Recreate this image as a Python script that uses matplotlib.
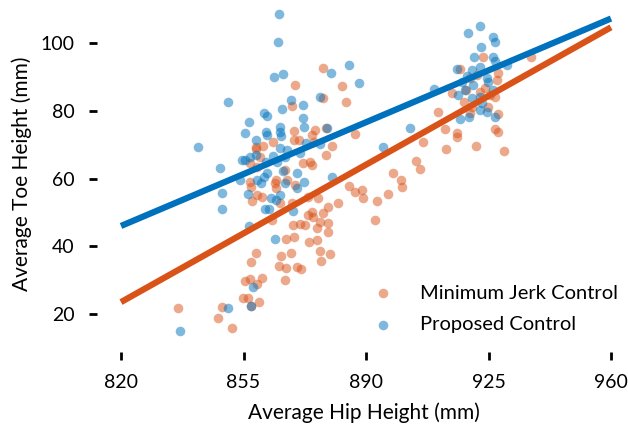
import matplotlib
matplotlib.use("Agg")
import matplotlib.pyplot as plt

## Colours (MATLAB-ish defaults)
orange = "#D95319"
blue = "#0072BD"

## Minimum jerk control: hip height vs toe height (mm)
mj_hip = [877.7, 869.7, 883.1, 884.3, 868.9, 877.7, 869.4, 878.6, 886.9, 875.4,
          863.4, 869.4, 870.9, 874.6, 875.1, 880.3, 858.6, 860.6, 858.6, 878.6,
          874.0, 872.0, 874.6, 856.9, 858.9, 859.7, 866.9, 867.4, 856.9, 864.3,
          864.0, 869.7, 885.1, 886.9, 888.9, 889.1, 857.1, 858.9, 860.3, 857.4,
          864.3, 865.4, 868.9, 873.4, 876.3, 879.1, 882.0, 874.6, 877.7, 873.4,
          874.9, 876.9, 879.1, 869.1, 871.1, 872.6, 876.0, 879.1, 893.1, 896.3,
          892.6, 863.1, 867.1, 869.4, 873.7, 876.0, 876.9, 879.7, 877.1, 858.6,
          857.1, 865.7, 868.6, 865.1, 867.1, 870.3, 871.4, 866.9, 855.4, 856.9,
          860.3, 858.9, 854.9, 856.3, 859.4, 857.1, 848.9, 847.7, 851.7, 836.3,
          937.1, 923.4, 916.9, 927.7, 921.7, 927.4, 924.0, 914.6, 922.6, 926.9,
          918.0, 924.9, 910.6, 919.7, 927.7, 912.6, 916.0, 916.0, 926.9, 927.7,
          906.3, 912.9, 921.4, 929.4, 904.3, 905.4, 897.7, 900.0, 900.3, 918.6,
          925.4, 920.3, 919.7]
mj_toe = [92.6, 87.6, 87.3, 82.6, 81.4, 83.8, 74.0, 74.9, 73.1, 74.3,
          70.8, 71.4, 71.4, 72.8, 70.8, 69.6, 69.3, 69.6, 68.7, 66.9,
          64.9, 64.6, 64.0, 64.6, 63.4, 66.3, 62.5, 59.6, 59.0, 59.6,
          58.7, 58.1, 57.8, 56.0, 56.6, 54.2, 57.5, 55.1, 54.5, 53.4,
          57.2, 52.8, 52.8, 54.5, 54.2, 51.6, 52.8, 50.1, 49.8, 49.2,
          48.6, 47.2, 46.9, 46.3, 46.6, 46.3, 45.4, 44.2, 53.4, 55.4,
          47.7, 47.7, 42.1, 42.7, 41.3, 41.8, 38.6, 37.7, 35.6, 38.0,
          35.4, 37.1, 38.0, 34.2, 33.6, 33.9, 33.3, 30.0, 29.7, 30.3,
          30.6, 28.9, 24.7, 24.7, 23.5, 22.4, 22.1, 18.8, 15.9, 21.8,
          95.9, 95.9, 92.3, 91.1, 90.6, 89.1, 86.7, 85.2, 85.5, 84.1,
          82.6, 81.1, 79.6, 79.3, 79.0, 74.6, 73.4, 72.3, 74.6, 73.7,
          70.8, 68.7, 69.6, 68.1, 65.2, 62.8, 61.6, 59.6, 57.5, 86.1,
          84.6, 81.1, 89.7]

## Proposed control
pc_hip = [865.1, 864.9, 863.7, 866.3, 880.0, 885.1, 888.0, 850.6, 868.6, 872.0,
          866.0, 876.9, 860.9, 861.7, 872.0, 856.6, 865.4, 872.3, 865.4, 855.4,
          861.4, 861.7, 878.9, 842.0, 858.6, 865.7, 872.9, 876.9, 858.6, 865.4,
          867.4, 866.9, 871.1, 863.4, 856.9, 854.6, 855.4, 861.4, 864.6, 848.3,
          866.3, 870.3, 861.7, 860.9, 880.3, 854.0, 858.9, 860.0, 866.9, 872.3,
          870.3, 848.9, 856.3, 865.4, 862.9, 864.3, 861.1, 862.3, 848.9, 869.1,
          856.6, 864.0, 857.7, 857.1, 850.6, 836.9,
          922.6, 919.1, 926.3, 926.9, 922.9, 920.9, 926.3, 926.9, 930.3, 916.0,
          920.3, 922.6, 918.9, 924.6, 917.4, 920.6, 924.9, 909.4, 916.3, 918.3,
          926.3, 920.3, 922.6, 923.1, 922.6, 924.6, 919.4, 916.9, 926.9, 902.6,
          894.9]
pc_toe = [108.6, 100.3, 90.0, 90.8, 91.1, 93.5, 88.2, 82.6, 83.2, 81.7,
          80.5, 84.1, 79.3, 78.5, 77.9, 76.7, 75.2, 75.2, 73.7, 73.4,
          73.7, 72.8, 74.9, 69.3, 71.4, 72.5, 70.5, 70.2, 66.9, 69.0,
          68.4, 66.3, 67.5, 66.6, 66.3, 65.5, 65.5, 64.9, 64.9, 63.1,
          62.2, 61.6, 61.6, 60.4, 60.4, 59.6, 59.6, 58.7, 58.7, 59.0,
          57.2, 55.7, 55.4, 55.1, 54.2, 53.7, 51.0, 51.0, 51.0, 50.4,
          46.0, 42.1, 28.0, 22.4, 21.8, 15.0,
          105.0, 103.0, 101.8, 100.3, 98.8, 95.9, 95.9, 94.7, 93.5, 92.3,
          92.0, 92.9, 90.3, 89.7, 88.5, 87.6, 88.5, 86.4, 84.6, 86.1,
          86.1, 83.8, 84.1, 82.3, 80.2, 79.6, 78.2, 77.6, 78.2, 74.9,
          69.3]

## Linear fits (end points)
fit_hip = [820, 960]
mj_fit = [23.5, 104.7]
pc_fit = [46.0, 107.3]

xticks = [820, 855, 890, 925, 960]
yticks = [20, 40, 60, 80, 100]

plt.rcParams['font.family'] = ['Lato', 'DejaVu Sans']
plt.rcParams['font.size'] = 14

fig = plt.figure(figsize=(6.28, 4.25), dpi=100)
ax = fig.add_axes([110.5 / 628, 1 - 341 / 425, (618 - 110.5) / 628, (341 - 6) / 425])

ax.scatter(mj_hip, mj_toe, s=48, color=orange, alpha=0.5, lw=0, label="Minimum Jerk Control")
ax.scatter(pc_hip, pc_toe, s=48, color=blue, alpha=0.5, lw=0, label="Proposed Control")
ax.plot(fit_hip, mj_fit, color=orange, lw=4.5, solid_capstyle="butt")
ax.plot(fit_hip, pc_fit, color=blue, lw=4.5, solid_capstyle="butt")

ax.set_xlim(817, 962)
ax.set_ylim(12, 111)
ax.set_xticks(xticks)
ax.set_yticks(yticks)

for side in ["top", "right"]:
    ax.spines[side].set_visible(False)
ax.spines["left"].set_position(("outward", 10))
ax.spines["bottom"].set_position(("outward", 8))
ax.spines["left"].set_visible(False)
ax.spines["bottom"].set_visible(False)
ax.tick_params(length=6, width=2, pad=10, labelsize=14)

ax.set_xlabel("Average Hip Height (mm)", fontsize=15, labelpad=8)
ax.set_ylabel("Average Toe Height (mm)", fontsize=15, labelpad=6)

ax.legend(loc="lower right", bbox_to_anchor=(1.035, -0.03), frameon=False,
          handletextpad=0.8, labelspacing=0.7, fontsize=14.5)

fig.savefig("out.png", dpi=100)
